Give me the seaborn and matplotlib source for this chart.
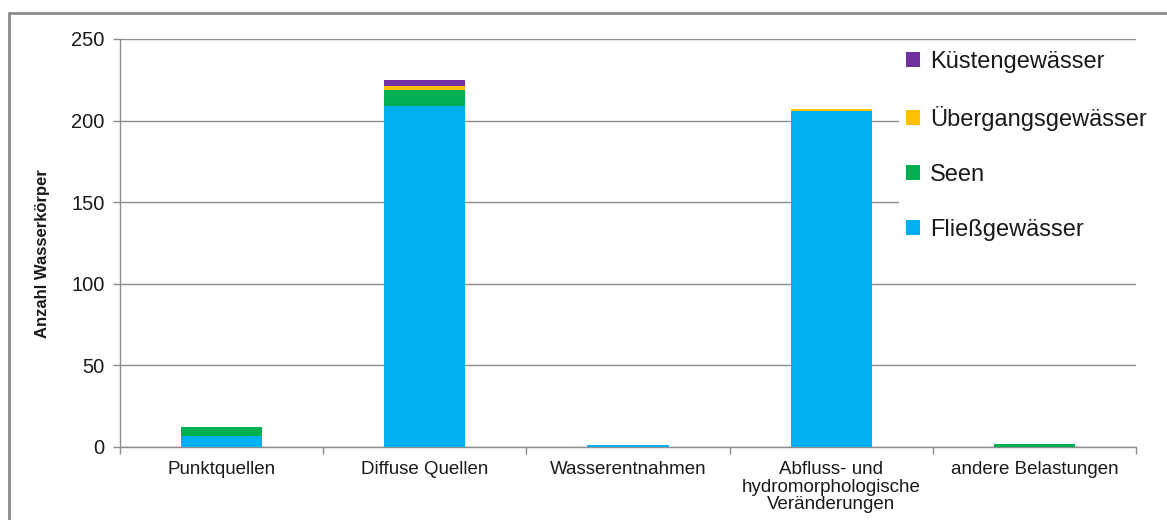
import matplotlib
matplotlib.use("Agg")
import matplotlib.pyplot as plt
from matplotlib.patches import Rectangle, Patch
import seaborn as sns
import pandas as pd
import numpy as np

categories = ["Punktquellen", "Diffuse Quellen", "Wasserentnahmen",
              "Abfluss- und\nhydromorphologische\nVeränderungen", "andere Belastungen"]
fliessgewaesser = [7, 209, 1, 206, 0]
seen = [5, 10, 0, 0, 2]
uebergangsgewaesser = [0, 2, 0, 1, 0]
kuestengewaesser = [0, 4, 0, 0, 0]

series_names = ["Fließgewässer", "Seen", "Übergangsgewässer", "Küstengewässer"]
series_values = [fliessgewaesser, seen, uebergangsgewaesser, kuestengewaesser]
series_colors = ["#00B0F0", "#00B050", "#FFC000", "#7030A0"]

sns.set_theme(style="white")
plt.rcParams["font.family"] = ["Liberation Sans", "DejaVu Sans"]

fig = plt.figure(figsize=(11.67, 5.2), dpi=100)
ax = fig.add_axes([120 / 1167, 73 / 520, 1016 / 1167, 408 / 520])

# stacked bars: draw cumulative totals from the top segment down
cum = np.cumsum(np.array(series_values), axis=0)
for i in range(len(series_names) - 1, -1, -1):
    df = pd.DataFrame({"Kategorie": categories, "Wert": cum[i]})
    sns.barplot(data=df, x="Kategorie", y="Wert", color=series_colors[i],
                width=0.4, saturation=1, linewidth=0, edgecolor="none",
                ax=ax, zorder=3)

ax.set_xlim(-0.5, 4.5)
ax.set_ylim(0, 250)
ax.set_yticks([0, 50, 100, 150, 200, 250])
ax.yaxis.grid(True, color="#8c8c8c", linewidth=1, zorder=0)
ax.set_axisbelow(True)

for side in ["top", "right"]:
    ax.spines[side].set_visible(False)
for side in ["left", "bottom"]:
    ax.spines[side].set_color("#8c8c8c")
    ax.spines[side].set_linewidth(1)

ax.set_xticks(np.arange(len(categories)))
ax.set_xticklabels(categories, fontsize=13.5, color="#1a1a1a", linespacing=1.05)
ax.set_xticks(np.arange(-0.5, 5, 1), minor=True)
ax.tick_params(axis="x", which="major", length=0, pad=10)
ax.tick_params(axis="x", which="minor", length=5, width=1, color="#8c8c8c", direction="out", bottom=True)
ax.tick_params(axis="y", length=5, width=1, color="#8c8c8c", direction="out", left=True,
               labelsize=14.5, labelcolor="#1a1a1a", pad=6)
for lbl in ax.get_xticklabels():
    lbl.set_verticalalignment("top")

ax.set_xlabel("")
ax.set_ylabel("Anzahl Wasserkörper", fontsize=12, fontweight="bold", color="#1a1a1a")
ax.yaxis.set_label_coords(-0.069, 0.473)

handles = [Patch(facecolor=c, edgecolor="none") for c in series_colors[::-1]]
leg = ax.legend(handles, series_names[::-1], loc="upper left",
                bbox_to_anchor=(899 / 1167, 476 / 520), bbox_transform=fig.transFigure,
                frameon=True, facecolor="white", edgecolor="none", framealpha=1,
                fancybox=False, fontsize=17, labelspacing=1.4,
                handlelength=0.6, handleheight=0.6, handletextpad=0.4,
                borderaxespad=0, borderpad=0.3)
leg.set_zorder(5)
for t in leg.get_texts():
    t.set_color("#1a1a1a")

# chart area border
fig.patches.append(Rectangle((9 / 1167, -0.1), 1.2, (520 - 13) / 520 + 0.1,
                             transform=fig.transFigure, fill=False,
                             edgecolor="#8c8c8c", linewidth=2, zorder=0))

fig.savefig("out.png", dpi=100)
